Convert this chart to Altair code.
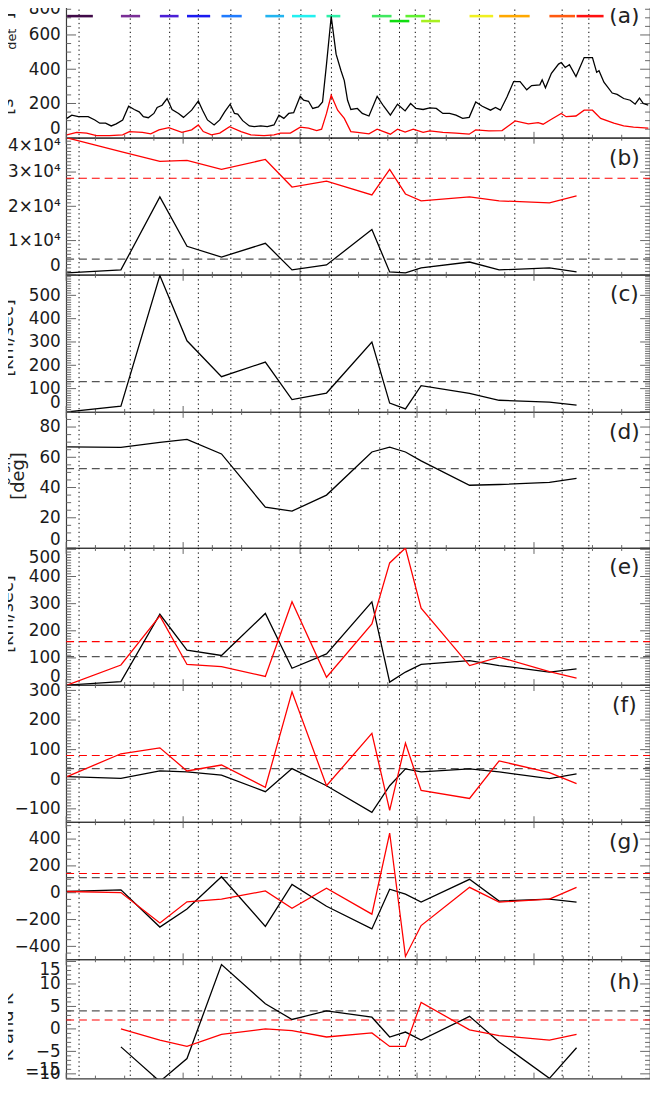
import altair as alt
import pandas as pd

# ---------------- data (time in hours from left edge) ----------------
A_T_BLACK = [0.006, 0.048, 0.104, 0.188, 0.245, 0.287, 0.337, 0.385, 0.428, 0.483,
             0.534, 0.582, 0.624, 0.660, 0.702, 0.750, 0.778, 0.820, 0.863, 0.905,
             0.961, 1.003, 1.073, 1.130, 1.166, 1.208, 1.265, 1.313, 1.355, 1.402,
             1.439, 1.467, 1.509, 1.566, 1.608, 1.664, 1.720, 1.777, 1.819, 1.861,
             1.903, 1.945, 2.001, 2.030, 2.072, 2.108, 2.156, 2.192, 2.226, 2.266,
             2.308, 2.350, 2.378, 2.406, 2.434, 2.490, 2.532, 2.589, 2.659, 2.715,
             2.772, 2.833, 2.898, 2.945, 2.991, 3.052, 3.109, 3.165, 3.221, 3.278,
             3.333, 3.390, 3.446, 3.502, 3.558, 3.628, 3.671, 3.713, 3.769, 3.826,
             3.881, 3.938, 3.980, 4.050, 4.070, 4.098, 4.149, 4.210, 4.233, 4.267,
             4.303, 4.359, 4.429, 4.500, 4.536, 4.556, 4.598, 4.669, 4.711, 4.767,
             4.823, 4.865, 4.902, 4.935, 4.977]
A_BLACK = [113, 132, 123, 123, 104, 85, 85, 69, 81, 104,
           184, 165, 151, 123, 117, 142, 177, 190, 229, 165,
           142, 119, 161, 215, 161, 104, 75, 104, 151, 196,
           142, 138, 100, 69, 65, 69, 65, 75, 132, 113,
           142, 146, 242, 219, 213, 171, 180, 209, 430, 708,
           488, 391, 334, 219, 165, 171, 142, 127, 242, 184,
           132, 196, 157, 200, 171, 165, 174, 171, 142, 142,
           132, 113, 119, 209, 184, 161, 177, 161, 238, 328,
           328, 280, 305, 309, 338, 292, 376, 430, 439, 410,
           426, 357, 468, 468, 382, 391, 324, 261, 253, 229,
           219, 196, 232, 200, 190]
A_T_RED = [0.006, 0.090, 0.175, 0.259, 0.371, 0.483, 0.540, 0.652, 0.723, 0.793,
           0.877, 0.989, 1.073, 1.130, 1.172, 1.242, 1.313, 1.397, 1.495, 1.579,
           1.692, 1.777, 1.833, 1.917, 2.001, 2.072, 2.142, 2.184, 2.226,
           2.266, 2.321, 2.378, 2.434, 2.490, 2.589, 2.659, 2.772, 2.833, 2.898,
           2.968, 3.052, 3.109, 3.221, 3.333, 3.446, 3.502, 3.615, 3.727, 3.839,
           3.952, 4.036, 4.078, 4.149, 4.233, 4.275, 4.359, 4.429, 4.500, 4.570,
           4.683, 4.767, 4.851, 4.977]
A_RED = [17, 31, 27, 12, 12, 17, 36, 31, 23, 46,
         59, 31, 46, 75, 36, 17, 27, 65, 36, 17,
         12, 17, 27, 27, 62, 56, 42, 50, 142,
         248, 161, 113, 36, 31, 23, 50, 21, 50, 33,
         50, 31, 40, 31, 27, 21, 46, 40, 42, 98,
         81, 88, 79, 108, 142, 123, 127, 161, 161, 113,
         85, 69, 62, 56]

EV_START = [0.008, 0.468, 0.801, 1.033, 1.328, 1.703, 1.931, 2.226,
            2.614, 2.766, 2.901, 3.035, 3.449, 3.702, 4.132, 4.364]
EV_END = [0.228, 0.632, 0.961, 1.231, 1.501, 1.863, 2.133, 2.344,
          2.782, 2.934, 3.069, 3.196, 3.651, 3.963, 4.351, 4.595]
EV_PEAK = [0.110, 0.548, 0.885, 1.130, 1.408, 1.821, 2.007, 2.268,
           2.681, 2.850, 2.985, 3.111, 3.533, 3.836, 4.241, 4.469]
EV_LEVEL = [710, 710, 710, 710, 710, 710, 710, 710,
            710, 681, 710, 681, 710, 710, 710, 710]
EV_COLOR = ["#400a48", "#7a2e96", "#4b1fd6", "#1a1af0", "#1f7bff", "#22b4f0",
            "#22f0f0", "#2ef0a8", "#3fe860", "#10dd10", "#60f030", "#a8f020",
            "#f0f020", "#ffa800", "#ff5a10", "#ff1010"]

B_BLACK = [575, 1440, 22735, 8346, 5180, 9209, 1440, 2878, 13238, 863, 576, 2015, 3741, 1440, 2015, 863]
B_RED = [40000, 35975, 33097, 33385, 30795, 33673, 25614, 27341, 23312, 30795, 23600, 21585, 22736, 21585, 21009, 23024]
B_MEAN = [4605, 28204]
C_BLACK = [0, 25, 585, 305, 151, 214, 53, 81, 300, 38, 13, 113, 80, 50, 42, 29]
C_MEAN = [130]
D_BLACK = [66.9, 66.5, 69.8, 71.9, 62.2, 27.0, 24.4, 35.0, 63.5, 66.7, 63.5, 57.6, 41.5, 42.0, 43.4, 46.0]
D_MEAN = [52.5]
E_BLACK = [0, 13, 261, 129, 109, 264, 62, 115, 307, 11, 48, 76, 90, 72, 48, 60]
E_RED = [0, 74, 255, 76, 68, 32, 307, 29, 225, 450, 505, 283, 72, 103, 50, 26]
E_MEAN = [105, 160]
F_BLACK = [9, 3, 28, 25, 14, -42, 36, -22, -112, -22, 35, 25, 35, 25, 2, 18]
F_RED = [9, 86, 106, 28, 48, -27, 295, -22, 155, -105, 122, -38, -65, 62, 22, -15]
F_MEAN = [36, 80]
G_BLACK = [9, 21, -256, -121, 119, -251, 62, -101, -270, 26, -10, -70, 100, -62, -48, -70]
G_RED = [9, 1, -226, -68, -48, 13, -116, 33, -160, 445, -475, -245, 40, -70, -48, 40]
G_MEAN = [112, 143]
H_BLACK = [-4.0, -11.7, -6.6, 14.3, 5.6, 2.1, 4.0, 2.6, -1.8, -0.7, -2.5, 2.8, -2.9, -11.0, -4.2]
H_RED = [0.0, -2.5, -3.9, -1.2, 0.0, -0.4, -1.8, -0.9, -3.9, -3.9, 5.9, -0.2, -1.5, -2.5, -1.2]
H_MEAN = [4.0, 2.0]

# ---------------- styling ----------------
FONT = "DejaVu Sans"
W = 592
XDOM = [0.0, 4.992]
TICK = "#666666"
BLACK = "#000000"
RED = "#ff0000"
MEANC = "#555555"
X_MAJOR = [0, 1, 2, 3, 4]
X_MINOR = [k * 0.25 for k in range(1, 20) if k % 4]


def panel(h, ydom, label_vals, minor, major, series, means, letter, letter_y,
          titles, flush, label_expr=None, extra=None, edge_label=None):
    xsc = alt.Scale(domain=XDOM, nice=False, zero=False)
    ysc = alt.Scale(domain=ydom, nice=False, zero=False)
    axkw = dict(values=label_vals, ticks=False, domain=False, grid=False, title=None,
                labelFont=FONT, labelFontSize=17, labelColor="#1a1a1a", labelPadding=6,
                labelFlush=flush, labelOverlap=False)
    if label_expr:
        axkw["labelExpr"] = label_expr
    ax = alt.Axis(**axkw)

    def Y(f):
        return alt.Y(f, type="quantitative", scale=ysc, axis=ax)

    def X(f):
        return alt.X(f, type="quantitative", scale=xsc, axis=None)

    lo, hi = ydom
    k0 = int(-(-lo // minor))
    k1 = int(hi // minor)
    allv = [k * minor for k in range(k0, k1 + 1)]
    ymaj = [v for v in allv if v % major == 0]
    ymin = [v for v in allv if v % major != 0]

    layers = []
    for vals, ln in ((ymaj, 10), (ymin, 5)):
        d = pd.DataFrame({"v": vals})
        layers.append(alt.Chart(d).mark_rule(color=TICK, strokeWidth=1).encode(
            y=Y("v"), x=alt.value(0), x2=alt.value(ln)))
        layers.append(alt.Chart(d).mark_rule(color=TICK, strokeWidth=1).encode(
            y=Y("v"), x=alt.value(W), x2=alt.value(W - ln)))
    for vals, ln in ((X_MAJOR, 6), (X_MINOR, 3)):
        d = pd.DataFrame({"t": vals})
        layers.append(alt.Chart(d).mark_rule(color=TICK, strokeWidth=1).encode(
            x=X("t"), y=alt.value(0), y2=alt.value(ln)))
        layers.append(alt.Chart(d).mark_rule(color=TICK, strokeWidth=1).encode(
            x=X("t"), y=alt.value(h), y2=alt.value(h - ln)))
    # dotted event peak markers
    layers.append(alt.Chart(pd.DataFrame({"t": EV_PEAK})).mark_rule(
        color=BLACK, strokeWidth=1, strokeDash=[1.3, 3.2]).encode(
        x=X("t"), y=alt.value(0), y2=alt.value(h)))
    if extra is not None:
        layers.extend(extra(X, Y))
    # mean (dashed) lines
    for v, c in means:
        layers.append(alt.Chart(pd.DataFrame({"v": [v]})).mark_rule(
            color=c, strokeWidth=1.3 if c == MEANC else 1.1, strokeDash=[8, 5]).encode(
            y=Y("v"), x=alt.value(0), x2=alt.value(W)))
    for ts, vs, c in series:
        d = pd.DataFrame({"t": ts, "v": vs})
        layers.append(alt.Chart(d).mark_line(color=c, strokeWidth=1.3, clip=True).encode(
            x=X("t"), y=Y("v")))
    layers.append(alt.Chart(pd.DataFrame({"s": [letter]})).mark_text(
        font=FONT, fontSize=22, color="#222222", align="center", baseline="middle").encode(
        x=alt.value(566), y=alt.value(letter_y), text="s:N"))
    for txt, gx, gy, fs in titles:
        layers.append(alt.Chart(pd.DataFrame({"s": [txt]})).mark_text(
            font=FONT, fontSize=fs, color="#222222", angle=270, align="center",
            baseline="alphabetic").encode(x=alt.value(gx), y=alt.value(gy), text="s:N"))
    if edge_label is not None:
        layers.append(alt.Chart(pd.DataFrame({"s": [edge_label]})).mark_text(
            font=FONT, fontSize=17, color="#1a1a1a", align="right", baseline="bottom").encode(
            x=alt.value(-6), y=alt.value(h), text="s:N"))
    return alt.layer(*layers).properties(width=W, height=h)


def extra_a(X, Y):
    bars = pd.DataFrame({"s": EV_START, "e": EV_END, "lvl": EV_LEVEL, "c": EV_COLOR})
    out = [alt.Chart(bars).mark_rule(strokeWidth=2.6).encode(
        x=X("s"), x2=alt.X2("e"), y=Y("lvl"), color=alt.Color("c:N", scale=None))]
    # invisible anchor fixing the chart's top-left bounds
    out.append(alt.Chart(pd.DataFrame({"s": [0]})).mark_rule(opacity=0).encode(
        x=alt.value(-120), y=alt.value(-5), y2=alt.value(0)))
    return out


ST = EV_START
H_T = EV_START[1:]

pa = panel(139, [0, 800], [0, 200, 400, 600, 800], 50, 200,
           [(A_T_BLACK, A_BLACK, BLACK), (A_T_RED, A_RED, RED)], [], "(a)", 16,
           [("[s⁻¹", -54, 99, 18), ("det", -51, 39, 13), ("⁻¹]", -54, 24, 18)],
           True, extra=extra_a)
pb = panel(139, [0, 40000], [0, 10000, 20000, 30000, 40000], 1000, 10000,
           [(ST, B_BLACK, BLACK), (ST, B_RED, RED)],
           [(B_MEAN[0], MEANC), (B_MEAN[1], RED)], "(b)", 21, [], True,
           label_expr="datum.value == 0 ? '0' : format(datum.value / 10000, 'd') + '×10⁴'")
pc = panel(139, [0, 588], [0, 100, 200, 300, 400, 500], 10, 100,
           [(ST, C_BLACK, BLACK)], [(C_MEAN[0], MEANC)], "(c)", 20,
           [("[km/sec]", -54, 64, 18)], True)
pd_ = panel(138, [0, 90], [0, 20, 40, 60, 80], 5, 20,
            [(ST, D_BLACK, BLACK)], [(D_MEAN[0], MEANC)], "(d)", 20,
            [("[deg]", -43, 65, 18), ("θ  sn", -57, 60, 14)], True)
pe = panel(139, [0, 505], [0, 100, 200, 300, 400, 500], 10, 100,
           [(ST, E_BLACK, BLACK), (ST, E_RED, RED)],
           [(E_MEAN[0], MEANC), (E_MEAN[1], RED)], "(e)", 19,
           [("[km/sec]", -54, 67, 18)], 3)
pf = panel(139, [-145, 318], [-100, 0, 100, 200, 300], 10, 100,
           [(ST, F_BLACK, BLACK), (ST, F_RED, RED)],
           [(F_MEAN[0], MEANC), (F_MEAN[1], RED)], "(f)", 20, [], True)
pg = panel(139, [-496, 526], [-400, -200, 0, 200, 400], 50, 200,
           [(ST, G_BLACK, BLACK), (ST, G_RED, RED)],
           [(G_MEAN[0], MEANC), (G_MEAN[1], RED)], "(g)", 20, [], True)
ph = panel(121, [-11.05, 15.5], [-10, -5, 0, 5, 10, 15], 1, 5,
           [(H_T, H_BLACK, BLACK), (H_T, H_RED, RED)],
           [(H_MEAN[0], MEANC), (H_MEAN[1], RED)], "(h)", 23,
           [("K  and  K", -54, 69, 18)], 3, edge_label="−15")

chart = alt.vconcat(pa, pb, pc, pd_, pe, pf, pg, ph, spacing=0, bounds="flush").properties(
    padding={"left": -62, "top": -21, "right": -2, "bottom": 0}
).configure_view(stroke="#3a3a3a", strokeWidth=1.2)

chart.save("out.html", embed_options={"renderer": "svg", "actions": False})
